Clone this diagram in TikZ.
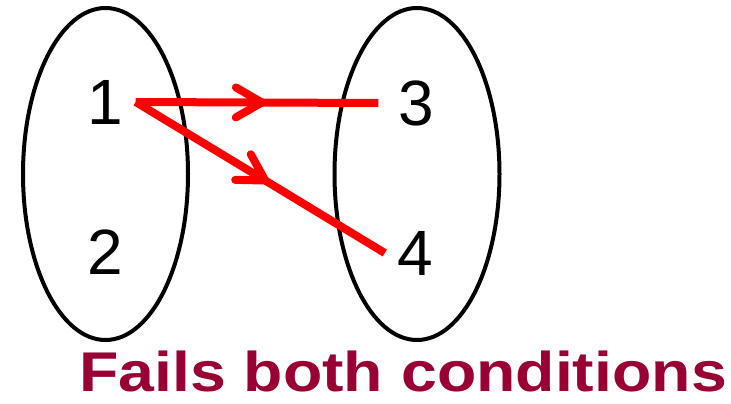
\documentclass[tikz,border=0pt]{standalone}
\usepackage{fontspec}
\setmainfont{Liberation Sans}
\usetikzlibrary{shapes.geometric, decorations.markings}
\definecolor{mapred}{HTML}{FF0000}
\definecolor{failred}{HTML}{990033}

\begin{document}
\begin{tikzpicture}[
      x=1pt, y=-1pt,
      set/.style={draw, ellipse, line width=4pt, minimum width=165pt,
        minimum height=332pt, inner sep=0pt},
      elem/.style={font=\fontsize{64}{64}\selectfont, inner sep=0pt,
        minimum width=60pt, minimum height=50pt},
      mapsto/.style={draw=mapred, line width=8pt, postaction={decorate},
        decoration={markings, mark=at position 0.52 with {
          \draw[mapred, line width=8pt, line cap=round, line join=round]
            (-26pt,15pt) -- (0pt,0pt) -- (-26pt,-15pt);}}},
      verdict/.style={font=\bfseries\fontsize{56}{56}\selectfont,
        text=failred, inner sep=0pt, xscale=1.15}
    ]
      \useasboundingbox (0,0) rectangle (731,404);
      % domain and codomain
      \node[set] (domain) at (105.5,174) {};
      \node[set] (codomain) at (417,174) {};
      \node[elem] (n1) at (105.5,102) {1};
      \node[elem] (n2) at (105.5,252) {2};
      \node[elem] (n3) at (416.5,103) {3};
      \node[elem] (n4) at (415,253) {4};
      % mappings
      \draw[mapsto] (n1.east) -- ([xshift=-8pt]n3.west);
      \draw[mapsto] (n1.east) -- (n4.west);
      \node[verdict, anchor=base west] (result) at (79,391)
        {Fails both conditions};
    \end{tikzpicture}
\end{document}
